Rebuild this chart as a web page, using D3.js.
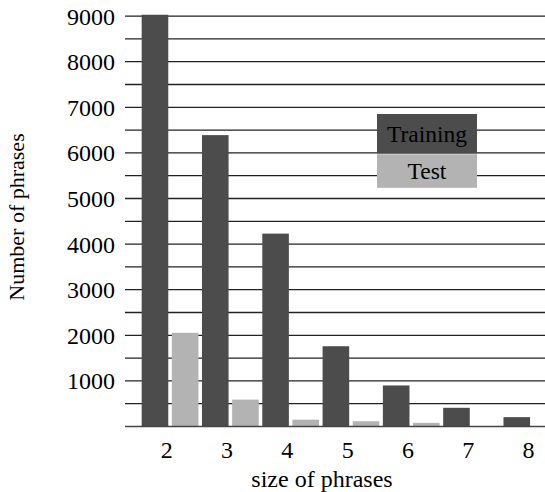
<!DOCTYPE html>
<html>
<head>
<meta charset="utf-8">
<script src="https://cdn.jsdelivr.net/npm/d3@7/dist/d3.min.js"></script>
<style>
  html, body { margin: 0; padding: 0; background: #fff; overflow: hidden; }
  svg { display: block; font-family: "Liberation Serif", "DejaVu Serif", serif; }
</style>
</head>
<body>
<svg id="chart" width="545" height="492"></svg>
<script>
// ─── Data ─────────────────────────────────────────────────────────────────────

const sizes = ["2", "3", "4", "5", "6", "7", "8"];
const series = ["Training", "Test"];
const training = [9030, 6390, 4230, 1760, 900, 410, 205];
const test = [2055, 590, 150, 115, 80, 0, 0];
const yTicks = [1000, 2000, 3000, 4000, 5000, 6000, 7000, 8000, 9000];
const gridValues = d3.range(500, 9001, 500);

const colors = { Training: "#4c4c4c", Test: "#b3b3b3" };

// ─── Scales ───────────────────────────────────────────────────────────────────

const svg = d3.select("#chart");
const plotLeft = 125;
const step = 60.3;
const bandStart = 139.9;

const x = d3.scaleBand()
  .domain(sizes)
  .range([bandStart, bandStart + step * sizes.length])
  .paddingInner(0)
  .paddingOuter(0);

const xSub = d3.scaleBand()
  .domain(series)
  .range([0, x.bandwidth()])
  .paddingInner(0.118)
  .paddingOuter(0.059);

const y = d3.scaleLinear().domain([0, 9000]).range([426.5, 16.1]);

// ─── Grid ─────────────────────────────────────────────────────────────────────

svg.append("g")
  .selectAll("line")
  .data(gridValues)
  .join("line")
  .attr("x1", plotLeft)
  .attr("x2", 600)
  .attr("y1", d => y(d))
  .attr("y2", d => y(d))
  .attr("stroke", "#222")
  .attr("stroke-width", 1.3);

// ─── Bars ─────────────────────────────────────────────────────────────────────

const rows = sizes.map((s, i) => ({ size: s, Training: training[i], Test: test[i] }));

svg.append("g")
  .selectAll("g")
  .data(rows)
  .join("g")
  .attr("transform", d => `translate(${x(d.size)},0)`)
  .selectAll("rect")
  .data(d => series.map(k => ({ key: k, value: d[k] })))
  .join("rect")
  .attr("x", d => xSub(d.key))
  .attr("width", xSub.bandwidth())
  .attr("y", d => y(d.value))
  .attr("height", d => y(0) - y(d.value))
  .attr("fill", d => colors[d.key]);

// baseline
svg.append("line")
  .attr("x1", plotLeft)
  .attr("x2", 600)
  .attr("y1", y(0))
  .attr("y2", y(0))
  .attr("stroke", "#444")
  .attr("stroke-width", 1.5);

// ─── Axes labels ──────────────────────────────────────────────────────────────

svg.append("g")
  .selectAll("text")
  .data(yTicks)
  .join("text")
  .attr("x", 115)
  .attr("y", d => y(d))
  .attr("dy", "0.35em")
  .attr("text-anchor", "end")
  .attr("font-size", "24px")
  .attr("fill", "#000")
  .text(d => d);

svg.append("g")
  .selectAll("text")
  .data(sizes)
  .join("text")
  .attr("x", d => x(d) + x.bandwidth() / 2 - 3.3)
  .attr("y", 458)
  .attr("text-anchor", "middle")
  .attr("font-size", "24px")
  .attr("fill", "#000")
  .text(d => d);

svg.append("text")
  .attr("x", 322)
  .attr("y", 487)
  .attr("text-anchor", "middle")
  .attr("font-size", "24px")
  .attr("fill", "#000")
  .text("size of phrases");

svg.append("text")
  .attr("transform", "translate(24,217) rotate(-90)")
  .attr("text-anchor", "middle")
  .attr("font-size", "22px")
  .attr("fill", "#000")
  .text("Number of phrases");

// ─── Legend ───────────────────────────────────────────────────────────────────

const legend = svg.append("g").attr("transform", "translate(377,114)");
const legendRows = [
  { key: "Training", y: 0, h: 39.5 },
  { key: "Test", y: 40.3, h: 33.5 },
];

legend.selectAll("rect")
  .data(legendRows)
  .join("rect")
  .attr("x", 0)
  .attr("y", d => d.y)
  .attr("width", 100)
  .attr("height", d => d.h)
  .attr("fill", d => colors[d.key]);

legend.selectAll("text")
  .data(legendRows)
  .join("text")
  .attr("x", 50)
  .attr("y", d => d.y + d.h / 2)
  .attr("dy", "0.35em")
  .attr("text-anchor", "middle")
  .attr("font-size", "23.5px")
  .attr("fill", "#000")
  .text(d => d.key);
</script>
</body>
</html>
